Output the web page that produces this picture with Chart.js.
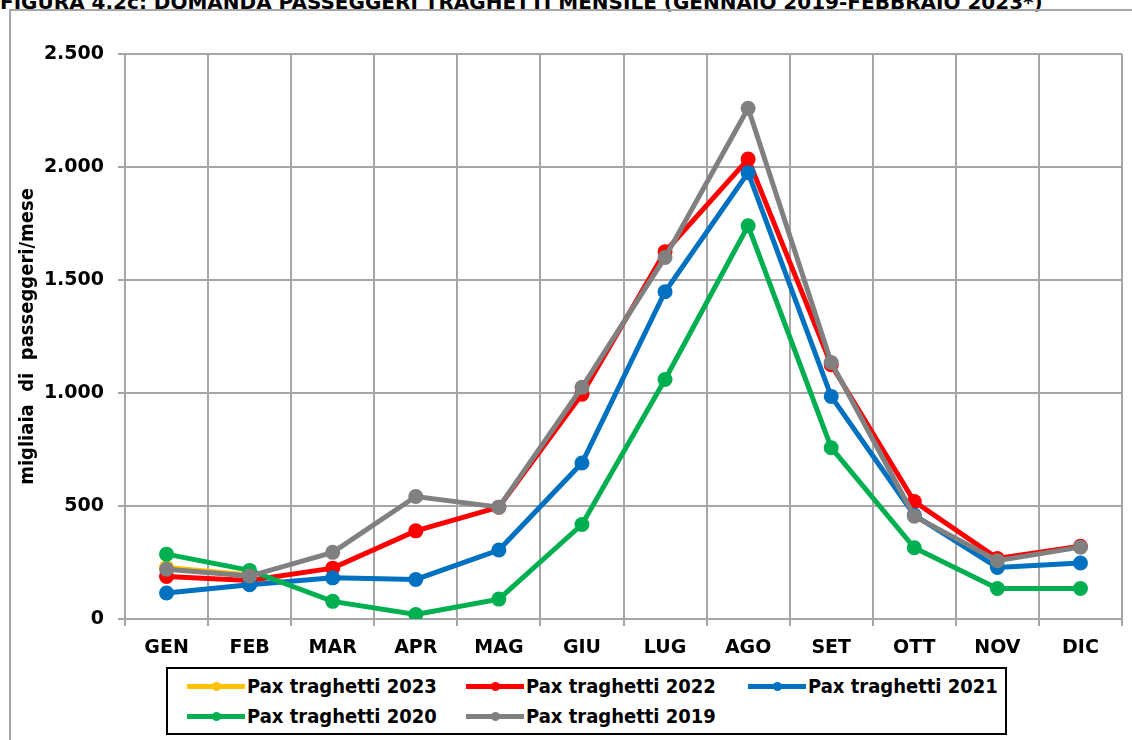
<!DOCTYPE html>
<html>
<head>
<meta charset="utf-8">
<script src="https://cdn.jsdelivr.net/npm/chart.js@4"></script>
<style>
  body { margin: 0; width: 1132px; height: 740px; overflow: hidden; background: #fff; position: relative; }
  #titolo { position: absolute; left: 0; top: -8px; font: bold 20px "DejaVu Sans", sans-serif; line-height: 20px; white-space: nowrap; color: #000; }
  #cornice { position: absolute; left: 9px; top: 9px; width: 2000px; height: 2000px; border-left: 2px solid #a6a6a6; border-top: 2px solid #a6a6a6; }
  #grafico { position: absolute; left: 0; top: 0; }
  #legenda { position: absolute; left: 166px; top: 667px; width: 837px; height: 64px; border: 2px solid #000; background: #fff; }
  .voce { position: absolute; height: 24px; display: flex; align-items: center; font: bold 20px "Liberation Sans Narrow", "DejaVu Sans Condensed", sans-serif; color: #000; white-space: nowrap; }
  .segno { position: relative; width: 58px; height: 5px; margin-right: 2px; }
  .segno i { position: absolute; left: 25px; top: -2px; width: 9px; height: 9px; border-radius: 50%; background: inherit; }
</style>
</head>
<body>
<div id="titolo">FIGURA 4.2c: DOMANDA PASSEGGERI TRAGHETTI MENSILE (GENNAIO 2019-FEBBRAIO 2023*)</div>
<div id="cornice"></div>
<canvas id="grafico" width="1132" height="740"></canvas>
<div id="legenda"></div>
<script>
// dati (migliaia di passeggeri al mese)
const mesi = ['GEN', 'FEB', 'MAR', 'APR', 'MAG', 'GIU', 'LUG', 'AGO', 'SET', 'OTT', 'NOV', 'DIC'];
const pax2023 = [228, 195, null, null, null, null, null, null, null, null, null, null];
const pax2022 = [188, 170, 225, 390, 495, 995, 1625, 2035, 1125, 520, 268, 322];
const pax2021 = [115, 152, 182, 175, 305, 690, 1448, 1975, 985, 460, 228, 248];
const pax2020 = [287, 215, 78, 20, 88, 418, 1060, 1740, 758, 315, 135, 135];
const pax2019 = [220, 190, 295, 542, 495, 1025, 1600, 2260, 1135, 455, 258, 318];
const tickY = [0, 500, 1000, 1500, 2000, 2500];

const nomiSerie = ['Pax traghetti 2023', 'Pax traghetti 2022', 'Pax traghetti 2021', 'Pax traghetti 2020', 'Pax traghetti 2019'];
const coloriSerie = ['#FFC000', '#FF0000', '#0070C0', '#00B050', '#808080'];
const valoriSerie = [pax2023, pax2022, pax2021, pax2020, pax2019];

const grigio = '#a6a6a6';
const fontStretto = "'Liberation Sans Narrow', 'DejaVu Sans Condensed', sans-serif";

function formatta(v) {
  return String(v).replace(/\B(?=(\d{3})+(?!\d))/g, '.');
}

const datasets = valoriSerie.map((vals, i) => ({
  label: nomiSerie[i],
  data: vals,
  borderColor: coloriSerie[i],
  backgroundColor: coloriSerie[i],
  pointBackgroundColor: coloriSerie[i],
  pointBorderWidth: 0,
  pointRadius: 7.5,
  pointHoverRadius: 7.5,
  borderWidth: 5,
  tension: 0,
  // l'ultima serie (2019) va disegnata sopra
  order: valoriSerie.length - 1 - i
}));

new Chart(document.getElementById('grafico'), {
  type: 'line',
  data: { labels: mesi, datasets: datasets },
  options: {
    responsive: false,
    animation: false,
    layout: { padding: { left: 10, right: 10, top: 54, bottom: 71 } },
    plugins: {
      legend: { display: false },
      tooltip: { enabled: false }
    },
    scales: {
      x: {
        offset: true,
        grid: { offset: true, color: grigio, lineWidth: 2, tickLength: 7 },
        border: { color: grigio, width: 2 },
        ticks: { color: '#000', padding: 11, font: { family: 'DejaVu Sans', weight: 'bold', size: 19 } },
        afterFit: s => { s.height = 50; }
      },
      y: {
        min: 0,
        max: 2500,
        afterBuildTicks: s => { s.ticks = tickY.map(v => ({ value: v })); },
        grid: { color: grigio, lineWidth: 2, tickLength: 7 },
        border: { color: grigio, width: 2 },
        ticks: {
          color: '#000',
          padding: 14,
          font: { family: 'DejaVu Sans', weight: 'bold', size: 19 },
          callback: v => formatta(v)
        },
        title: {
          display: true,
          text: 'migliaia  di  passeggeri/mese',
          color: '#000',
          padding: { top: 6, bottom: 0 },
          font: { family: fontStretto, weight: 'bold', size: 20 }
        },
        afterFit: s => { s.width = 115; }
      }
    }
  }
});

// legenda come nel foglio Excel: tre colonne, due righe
const legenda = document.getElementById('legenda');
const colX = [19, 298, 580];
const rigaY = [5, 35];
nomiSerie.forEach((nome, i) => {
  const voce = document.createElement('div');
  voce.className = 'voce';
  voce.style.left = colX[i % 3] + 'px';
  voce.style.top = rigaY[Math.floor(i / 3)] + 'px';
  const segno = document.createElement('span');
  segno.className = 'segno';
  segno.style.background = coloriSerie[i];
  segno.appendChild(document.createElement('i'));
  voce.appendChild(segno);
  voce.appendChild(document.createTextNode(nome));
  legenda.appendChild(voce);
});
</script>
</body>
</html>
